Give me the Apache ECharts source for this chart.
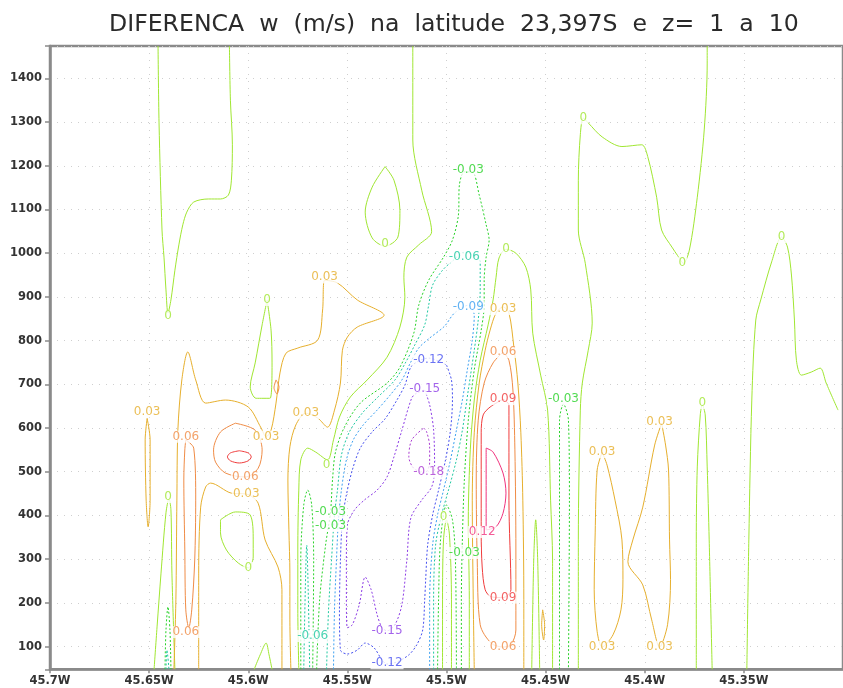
<!DOCTYPE html>
<html><head><meta charset="utf-8">
<script src="https://cdn.jsdelivr.net/npm/echarts@6/dist/echarts.min.js"></script>
<style>html,body{margin:0;padding:0;background:#fff}#c{width:843px;height:688px}</style>
</head><body><div id="c"></div>
<script>
// ---- axis ranges (longitude in degrees W, height in m) ----
const lonMin = 45.3, lonMax = 45.7, lonStep = 0.05;
const hMin = 48, hMax = 1474, hStep = 100;
const titleText = 'DIFERENCA  w  (m/s)  na  latitude  23,397S  e  z=  1  a  10';

// ---- contour lines: [lon W, height] ----
// level 0
const z0a = [[45.6455,1474],[45.645,1298],[45.6435,1053],[45.6425,991],[45.6415,916],[45.6405,863],[45.639,893],[45.637,961],[45.635,1019],[45.633,1065],[45.631,1094],[45.6275,1117],[45.62,1124],[45.614,1124],[45.61,1133],[45.6085,1167],[45.608,1248],[45.609,1350],[45.6095,1474]];
const z0b = [[45.517,1474],[45.517,1259],[45.5125,1144],[45.5075,1049],[45.514,1019],[45.52,991],[45.5215,945],[45.521,900],[45.5235,831],[45.53,762],[45.54,710],[45.5485,671],[45.554,625],[45.557,573],[45.56,527],[45.566,545],[45.57,554],[45.5735,527],[45.5745,458],[45.575,321],[45.575,184],[45.5745,48]];
const z0c = [[45.531,1198],[45.5265,1167],[45.5235,1098],[45.5245,1037],[45.531,1016],[45.5375,1035],[45.541,1094],[45.5375,1151],[45.531,1198]];
const z0d = [[45.5905,893],[45.5885,824],[45.588,749],[45.589,668],[45.596,668],[45.599,694],[45.5965,749],[45.593,836],[45.5905,893]];
const z0e = [[45.614,390],[45.6065,408],[45.599,401],[45.5975,344],[45.5975,305],[45.6,280],[45.605,291],[45.611,321],[45.614,360],[45.614,390]];
const z0f = [[45.6475,48],[45.646,145],[45.644,268],[45.6415,406],[45.64,438],[45.639,413],[45.6385,268],[45.637,48]];
const z0g = [[45.597,48],[45.594,81],[45.591,108],[45.5895,81],[45.588,48]];
const z0h = [[45.4885,48],[45.4885,207],[45.489,390],[45.488,550],[45.486,664],[45.483,755],[45.479,836],[45.4765,893],[45.475,945],[45.4735,989],[45.47,1009],[45.465,1000],[45.46,968],[45.4575,916],[45.4565,817],[45.4525,721],[45.449,641],[45.4475,435],[45.4465,298],[45.4465,48]];
const z0i = [[45.3685,1474],[45.3685,1435],[45.37,1282],[45.3735,1128],[45.3775,1007],[45.3805,977],[45.3835,995],[45.386,1012],[45.3915,1053],[45.394,1128],[45.3985,1221],[45.4015,1248],[45.4115,1244],[45.4215,1266],[45.4285,1298],[45.431,1309],[45.4325,1271],[45.4335,1167],[45.4335,1053],[45.43,977],[45.4265,840],[45.4285,778],[45.4315,703],[45.4325,641],[45.4335,344],[45.4335,48]];
const z0j = [[45.3485,48],[45.3475,344],[45.346,664],[45.344,847],[45.3415,893],[45.336,980],[45.331,1037],[45.328,1014],[45.326,950],[45.3245,847],[45.3235,755],[45.321,721],[45.316,728],[45.3115,737],[45.3085,703],[45.3025,641]];
const z0k = [[45.374,48],[45.374,344],[45.3735,511],[45.372,630],[45.371,653],[45.3695,630],[45.3685,511],[45.3675,344],[45.366,48]];
const z0l = [[45.502,48],[45.502,207],[45.5015,344],[45.5,390],[45.4985,355],[45.4975,207],[45.4975,48]];
const z0m = [[45.457,48],[45.456,298],[45.455,390],[45.454,298],[45.453,48]];
// level 0.03
const p3a = [[45.651,622],[45.6495,573],[45.6495,435],[45.6505,374],[45.6515,435],[45.652,573],[45.651,622]];
const p3b = [[45.6375,48],[45.6365,207],[45.636,435],[45.6355,595],[45.6335,710],[45.6305,774],[45.6265,710],[45.6215,657],[45.6115,664],[45.6,648],[45.5935,600],[45.591,580],[45.5885,595],[45.586,657],[45.584,726],[45.581,771],[45.575,783],[45.565,801],[45.5625,870],[45.5615,938],[45.555,932],[45.545,893],[45.5315,858],[45.545,831],[45.55,808],[45.5525,778],[45.5535,703],[45.5565,641],[45.56,602],[45.565,623],[45.571,634],[45.576,607],[45.579,557],[45.58,481],[45.5795,367],[45.579,268],[45.579,161],[45.5785,48]];
const p3c = [[45.625,48],[45.625,268],[45.624,419],[45.6215,465],[45.619,474],[45.6085,451],[45.601,449],[45.595,428],[45.5915,344],[45.585,282],[45.583,230],[45.583,48]];
const p3d = [[45.486,48],[45.4865,207],[45.487,435],[45.486,589],[45.4835,703],[45.4805,778],[45.478,824],[45.475,863],[45.4715,877],[45.4685,863],[45.466,785],[45.464,703],[45.4625,589],[45.4615,435],[45.461,207],[45.461,48]];
const p3e = [[45.4215,545],[45.419,515],[45.415,435],[45.4115,344],[45.411,253],[45.412,184],[45.416,127],[45.4215,99],[45.424,134],[45.4255,230],[45.425,360],[45.424,504],[45.4215,545]];
const p3f = [[45.3915,611],[45.3895,561],[45.388,504],[45.3875,344],[45.387,253],[45.3885,150],[45.3925,99],[45.3965,161],[45.401,241],[45.4085,294],[45.406,344],[45.401,419],[45.395,561],[45.3915,611]];
const p3g = [[45.4515,184],[45.4505,150],[45.451,115],[45.452,150],[45.4515,184]];
// level 0.06
const p6a = [[45.6315,573],[45.6275,554],[45.6265,435],[45.627,298],[45.6285,184],[45.63,143],[45.6315,184],[45.632,321],[45.6325,481],[45.632,550],[45.6315,573]];
const p6b = [[45.6065,611],[45.5965,595],[45.593,550],[45.595,508],[45.6015,488],[45.6115,497],[45.6165,522],[45.6175,550],[45.614,591],[45.6065,611]];
const p6c = [[45.586,710],[45.5845,694],[45.5855,678],[45.587,692],[45.586,710]];
const p6d = [[45.4715,774],[45.4685,755],[45.4665,687],[45.4655,550],[45.465,321],[45.465,138],[45.4675,104],[45.4715,99],[45.4775,108],[45.483,150],[45.4845,298],[45.485,481],[45.484,618],[45.481,703],[45.4765,749],[45.4715,774]];
// level 0.09
const p9a = [[45.6045,548],[45.6,543],[45.5985,534],[45.6,525],[45.6045,520],[45.609,525],[45.6105,534],[45.609,543],[45.6045,548]];
const p9b = [[45.4715,666],[45.4685,653],[45.4685,435],[45.4675,230],[45.4715,212],[45.4775,214],[45.4805,230],[45.482,282],[45.4825,360],[45.4825,589],[45.4815,630],[45.478,648],[45.4715,666]];
// level 0.12
const p12a = [[45.48,554],[45.4765,545],[45.4715,497],[45.47,451],[45.4715,405],[45.475,374],[45.48,367],[45.48,527],[45.48,554]];
// level -0.03
const n3a = [[45.5655,48],[45.564,207],[45.561,332],[45.5585,408],[45.5575,481],[45.556,545],[45.5515,602],[45.5435,657],[45.53,703],[45.5235,739],[45.5165,817],[45.514,881],[45.509,938],[45.5015,991],[45.497,1030],[45.494,1087],[45.4935,1156],[45.491,1186],[45.487,1186],[45.4835,1133],[45.48,1065],[45.4785,1030],[45.48,991],[45.481,938],[45.481,881],[45.4825,824],[45.486,733],[45.489,618],[45.491,481],[45.492,344],[45.4925,207],[45.4925,48]];
const n3b = [[45.5735,48],[45.5735,298],[45.572,424],[45.57,458],[45.568,424],[45.567,298],[45.5675,48]];
const n3c = [[45.5045,48],[45.504,207],[45.503,344],[45.5,424],[45.497,390],[45.4955,298],[45.495,48]];
const n3d = [[45.443,48],[45.443,435],[45.443,618],[45.441,655],[45.4385,618],[45.438,435],[45.4385,48]];
const n3e = [[45.642,48],[45.6415,138],[45.6405,191],[45.6395,138],[45.639,48]];
// level -0.06
const n6a = [[45.5605,48],[45.5595,184],[45.558,298],[45.5565,401],[45.555,458],[45.553,538],[45.549,591],[45.5425,634],[45.535,669],[45.526,710],[45.5205,751],[45.516,790],[45.511,836],[45.509,881],[45.507,927],[45.502,961],[45.4975,980],[45.491,1002],[45.483,980],[45.483,916],[45.484,847],[45.486,778],[45.489,687],[45.492,595],[45.495,527],[45.499,458],[45.5025,401],[45.5055,332],[45.5065,207],[45.5065,48]];
const n6b = [[45.572,48],[45.5705,332],[45.569,48]];
const n6c = [[45.6415,48],[45.641,92],[45.64,48]];
// level -0.09
const n9a = [[45.557,48],[45.5565,184],[45.5555,298],[45.5545,390],[45.553,458],[45.5505,527],[45.547,573],[45.542,607],[45.535,641],[45.5285,675],[45.5225,710],[45.518,751],[45.514,783],[45.509,804],[45.501,833],[45.496,863],[45.489,881],[45.486,858],[45.487,801],[45.4895,733],[45.492,664],[45.495,595],[45.498,527],[45.5015,458],[45.5045,401],[45.507,332],[45.5085,207],[45.5085,48]];
// level -0.12
const n12a = [[45.5,744],[45.4975,710],[45.497,664],[45.498,595],[45.5005,527],[45.504,458],[45.507,401],[45.5095,332],[45.5105,253],[45.511,207],[45.512,138],[45.515,104],[45.519,81],[45.525,65],[45.53,60],[45.5325,69],[45.5365,97],[45.541,108],[45.545,92],[45.55,83],[45.5535,92],[45.554,184],[45.5535,298],[45.5525,390],[45.5505,447],[45.5475,504],[45.5435,554],[45.5375,591],[45.531,621],[45.525,664],[45.521,698],[45.5175,742],[45.509,760],[45.5,744]];
// level -0.15
const n15a = [[45.511,687],[45.5085,653],[45.5065,595],[45.506,504],[45.5075,465],[45.5125,435],[45.518,394],[45.52,298],[45.5225,196],[45.526,150],[45.53,136],[45.5325,143],[45.535,173],[45.538,230],[45.541,259],[45.544,196],[45.5475,150],[45.55,143],[45.5505,207],[45.5505,298],[45.55,378],[45.5465,412],[45.5415,435],[45.535,458],[45.53,488],[45.5265,534],[45.5225,595],[45.5175,669],[45.515,680],[45.511,687]];
// level -0.18
const n18a = [[45.5115,600],[45.51,591],[45.5085,557],[45.5085,520],[45.511,497],[45.5165,508],[45.519,534],[45.5175,573],[45.5115,600]];

// ---- contour label positions ----
const lab0 = [[45.6405,856],[45.5605,515],[45.531,1021],[45.5905,893],[45.6,280],[45.6405,442],[45.47,1009],[45.431,1309],[45.381,977],[45.331,1037],[45.371,657],[45.5015,396]];
const labP03 = [[45.651,638],[45.591,580],[45.5615,945],[45.571,634],[45.601,449],[45.4715,872],[45.4215,545],[45.4215,99],[45.3925,614],[45.3925,99]];
const labP06 = [[45.6315,580],[45.6315,133],[45.6015,488],[45.4715,774],[45.4715,99]];
const labP09 = [[45.4715,666],[45.4715,212]];
const labP12 = [[45.482,362]];
const labN03 = [[45.489,1191],[45.5585,408],[45.5585,376],[45.491,314],[45.441,666]];
const labN06 = [[45.491,991],[45.5675,124]];
const labN09 = [[45.489,877]];
const labN12 = [[45.509,755],[45.53,62]];
const labN15 = [[45.511,689],[45.53,136]];
const labN18 = [[45.509,499]];

const levelColor = {
  '-0.18':'#aa3cd2','-0.15':'#8c3ce6','-0.12':'#4650f0','-0.09':'#3ca0f0',
  '-0.06':'#1ec8a0','-0.03':'#28d228','0':'#a0e632','0.03':'#e6af2d',
  '0.06':'#f08c46','0.09':'#f03c3c','0.12':'#f0327d'
};

const contours = [
  ['0',z0a],['0',z0b],['0',z0c],['0',z0d],['0',z0e],['0',z0f],['0',z0g],['0',z0h],['0',z0i],['0',z0j],['0',z0k],['0',z0l],['0',z0m],
  ['0.03',p3a],['0.03',p3b],['0.03',p3c],['0.03',p3d],['0.03',p3e],['0.03',p3f],['0.03',p3g],
  ['0.06',p6a],['0.06',p6b],['0.06',p6c],['0.06',p6d],
  ['0.09',p9a],['0.09',p9b],['0.12',p12a],
  ['-0.03',n3a],['-0.03',n3b],['-0.03',n3c],['-0.03',n3d],['-0.03',n3e],
  ['-0.06',n6a],['-0.06',n6b],['-0.06',n6c],
  ['-0.09',n9a],['-0.12',n12a],['-0.15',n15a],['-0.18',n18a]
];
const labelSets = [
  ['0',lab0],['0.03',labP03],['0.06',labP06],['0.09',labP09],['0.12',labP12],
  ['-0.03',labN03],['-0.06',labN06],['-0.09',labN09],['-0.12',labN12],['-0.15',labN15],['-0.18',labN18]
];

const series = [];
contours.forEach(([lv, pts]) => {
  series.push({
    type:'line', data: pts, showSymbol:false, symbol:'none', smooth:0.3,
    lineStyle:{color: levelColor[lv], width:1, type: lv.charAt(0)==='-' ? [2,2] : 'solid'},
    silent:true, z:2, animation:false
  });
});
labelSets.forEach(([lv, pts]) => {
  series.push({
    type:'scatter', data: pts.map(p => ({value:p, name:lv})), symbolSize:1,
    itemStyle:{color:'rgba(0,0,0,0)'},
    label:{show:true, position:'inside', formatter:'{b}', color: levelColor[lv],
      backgroundColor:'#fff', padding:[0,1], fontSize:12, fontFamily:'DejaVu Sans', lineHeight:12},
    silent:true, z:5, animation:false
  });
});

const axisGray = '#8a8a8a';
const chart = echarts.init(document.getElementById('c'), null, {renderer:'canvas'});
chart.setOption({
  animation:false,
  backgroundColor:'#fff',
  title:{text:titleText, left:104, top:8,
    textStyle:{fontFamily:'DejaVu Sans', fontSize:23.6, fontWeight:'normal', color:'#2a2a2a'}},
  grid:{left:50, right:-7, top:46, height:623.3, show:true, borderColor:axisGray, borderWidth:2.5, backgroundColor:'#fff'},
  xAxis:{
    type:'value', inverse:true, min:lonMin, max:lonMax, interval:lonStep,
    axisLine:{show:true, lineStyle:{color:axisGray, width:2.5}},
    axisTick:{show:true, length:4, lineStyle:{color:axisGray, width:1.5}},
    axisLabel:{showMinLabel:false, margin:6, color:'#333', fontFamily:'DejaVu Sans', fontWeight:'bold', fontSize:11.5,
      formatter: v => (Math.round(v*100)/100) + 'W'},
    splitLine:{show:true, lineStyle:{color:'#cfcfcf', type:[1,6], width:1}}
  },
  yAxis:{
    type:'value', min:hMin, max:hMax, minInterval:hStep, maxInterval:hStep, splitNumber:14,
    axisLine:{show:true, lineStyle:{color:axisGray, width:2.5}},
    axisTick:{show:true, length:5, lineStyle:{color:axisGray, width:1.5}},
    axisLabel:{margin:8, color:'#333', fontFamily:'DejaVu Sans', fontWeight:'bold', fontSize:11.5,
      formatter: v => (Math.abs(v % hStep) < 1e-6 ? String(v) : '')},
    splitLine:{show:true, lineStyle:{color:'#cfcfcf', type:[1,6], width:1}}
  },
  series: series
});
</script>
</body></html>
